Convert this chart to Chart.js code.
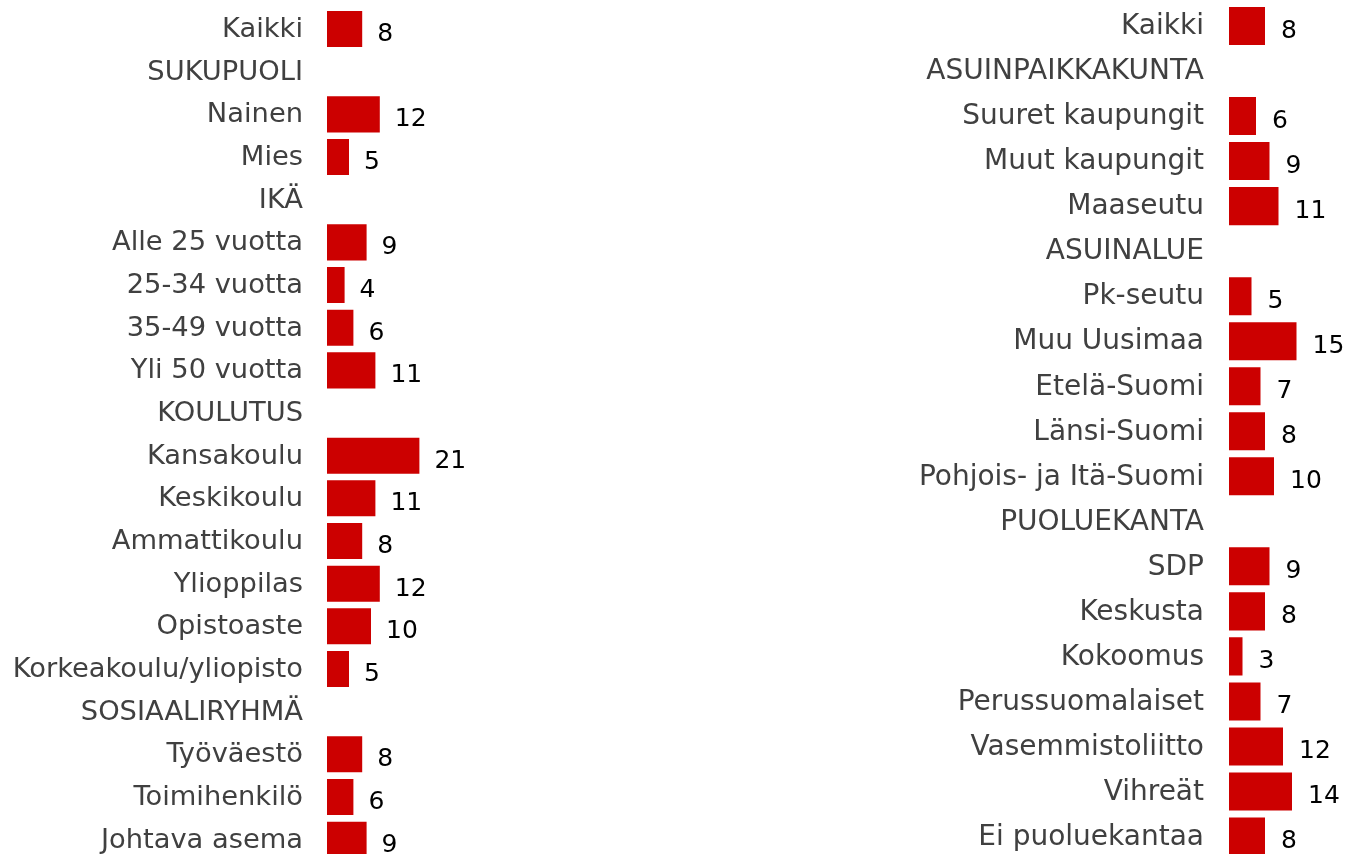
<!DOCTYPE html>
<html>
<head>
<meta charset="utf-8">
<script src="https://cdn.jsdelivr.net/npm/chart.js@4"></script>
<style>
  html, body { margin: 0; padding: 0; background: #fff; overflow: hidden; width: 1349px; height: 854px; }
  .box { position: absolute; top: 0; }
  #leftBox { left: 0; width: 547px; height: 861px; }
  #rightBox { left: 900px; width: 464px; height: 859px; }
</style>
</head>
<body>
<div class="box" id="leftBox"><canvas id="leftChart"></canvas></div>
<div class="box" id="rightBox"><canvas id="rightChart"></canvas></div>
<script>
// left panel: background groups
let leftLabels = ["Kaikki", "SUKUPUOLI", "Nainen", "Mies", "IKÄ", "Alle 25 vuotta", "25-34 vuotta",
  "35-49 vuotta", "Yli 50 vuotta", "KOULUTUS", "Kansakoulu", "Keskikoulu", "Ammattikoulu",
  "Ylioppilas", "Opistoaste", "Korkeakoulu/yliopisto", "SOSIAALIRYHMÄ", "Työväestö",
  "Toimihenkilö", "Johtava asema"]
let leftValues = [8, null, 12, 5, null, 9, 4, 6, 11, null, 21, 11, 8, 12, 10, 5, null, 8, 6, 9]

// right panel: region and party
let rightLabels = ["Kaikki", "ASUINPAIKKAKUNTA", "Suuret kaupungit", "Muut kaupungit", "Maaseutu",
  "ASUINALUE", "Pk-seutu", "Muu Uusimaa", "Etelä-Suomi", "Länsi-Suomi", "Pohjois- ja Itä-Suomi",
  "PUOLUEKANTA", "SDP", "Keskusta", "Kokoomus", "Perussuomalaiset", "Vasemmistoliitto",
  "Vihreät", "Ei puoluekantaa"]
let rightValues = [8, null, 6, 9, 11, null, 5, 15, 7, 8, 10, null, 9, 8, 3, 7, 12, 14, 8]

const fontFamily = "'DejaVu Sans', Verdana, sans-serif"

// draws the number after each bar
const valueLabels = {
  id: 'valueLabels',
  afterDatasetsDraw(chart, args, opts) {
    let ctx = chart.ctx
    let meta = chart.getDatasetMeta(0)
    let data = chart.data.datasets[0].data
    ctx.save()
    ctx.font = '25px ' + fontFamily
    ctx.fillStyle = '#000000'
    ctx.textAlign = 'left'
    ctx.textBaseline = 'alphabetic'
    meta.data.forEach((bar, i) => {
      if (data[i] === null) return
      ctx.fillText(String(data[i]), bar.x + opts.offset, bar.y + 12)
    })
    ctx.restore()
  }
}

function makeChart(id, labels, values, axisWidth, xMax, padTop, gap, fontSize, offset) {
  return new Chart(document.getElementById(id), {
    type: 'bar',
    data: {
      labels: labels,
      datasets: [{
        data: values,
        backgroundColor: '#cc0000',
        barPercentage: 0.845,
        categoryPercentage: 1.0
      }]
    },
    plugins: [valueLabels],
    options: {
      indexAxis: 'y',
      responsive: true,
      maintainAspectRatio: false,
      animation: false,
      layout: { padding: { top: padTop, bottom: 0, left: 0, right: 0 } },
      scales: {
        x: { display: false, min: 0, max: xMax },
        y: {
          grid: { display: false, drawTicks: true, tickLength: gap },
          border: { display: false },
          ticks: {
            color: '#404040',
            padding: 0,
            labelOffset: 1,
            autoSkip: false,
            font: { family: fontFamily, size: fontSize }
          },
          afterFit: function(scale) {
            scale.width = axisWidth
            scale.paddingTop = 0
            scale.paddingBottom = 0
          }
        }
      },
      plugins: {
        legend: { display: false },
        tooltip: { enabled: false },
        valueLabels: { offset: offset }
      }
    }
  })
}

makeChart('leftChart', leftLabels, leftValues, 327, 50, 7.7, 24, 27.3, 15)
makeChart('rightChart', rightLabels, rightValues, 329, 30, 3.5, 25, 28, 16)
</script>
</body>
</html>
